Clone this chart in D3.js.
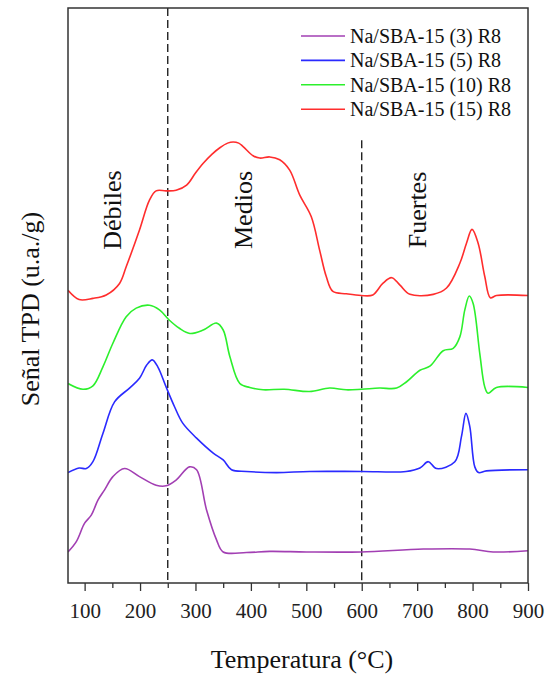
<!DOCTYPE html>
<html><head><meta charset="utf-8">
<script src="https://cdn.jsdelivr.net/npm/d3@7"></script>
<style>html,body{margin:0;padding:0;background:#fff}svg{display:block}</style>
</head><body>
<script>
// ---- data (temperature °C, signal a.u.) ----
const seriesNames = ["Na/SBA-15 (3) R8","Na/SBA-15 (5) R8","Na/SBA-15 (10) R8","Na/SBA-15 (15) R8"];
const seriesColors = ["#a23fb3","#2a2aff","#2cf02c","#ff2d2d"];
const s3 = [[70,5.4],[85,7.2],[100,10.4],[112,11.8],[124,14.4],[136,16.2],[151,18.5],[172,19.9],[199,18.5],[229,17.0],[247,16.9],[265,17.9],[289,20.2],[302,19.7],[320,12.7],[338,7.5],[350,5.4],[392,5.3],[434,5.5],[500,5.4],[599,5.4],[711,5.9],[795,5.9],[837,5.4],[900,5.6]];
const s5 = [[70,19.2],[90,20.0],[103,19.9],[115,21.1],[133,26.0],[154,31.5],[181,33.9],[199,35.6],[212,37.9],[222,38.8],[232,37.6],[247,34.1],[262,30.7],[277,27.8],[302,25.2],[332,22.6],[350,21.4],[365,19.7],[392,19.4],[446,19.2],[506,19.4],[600,19.4],[680,19.4],[705,20.0],[720,21.1],[735,19.9],[768,21.1],[780,25.5],[788,29.5],[795,27.2],[804,20.2],[811,19.2],[825,19.5],[900,19.7]];
const s10 = [[70,34.7],[97,33.7],[115,34.3],[133,37.6],[151,41.7],[175,46.3],[193,47.8],[217,48.3],[235,47.5],[253,45.7],[271,44.3],[290,43.4],[314,44.0],[338,45.2],[350,44.0],[362,39.4],[380,34.7],[398,34.0],[422,33.6],[460,33.7],[506,33.3],[542,33.9],[572,33.6],[600,33.7],[632,33.9],[663,33.9],[681,35.0],[705,37.0],[723,37.7],[747,40.4],[765,40.8],[777,42.8],[786,47.5],[794,49.9],[801,48.6],[813,39.9],[822,34.1],[828,33.0],[843,34.0],[900,34.0]];
const s15 = [[70,50.9],[90,49.3],[115,49.5],[139,50.1],[163,52.1],[175,55.0],[199,61.4],[217,66.6],[229,68.2],[247,68.2],[265,68.3],[284,69.2],[300,71.3],[314,73.0],[330,74.6],[344,75.7],[358,76.5],[368,76.7],[378,76.5],[386,75.9],[404,74.3],[416,73.9],[434,74.1],[452,73.6],[470,71.8],[488,67.5],[509,63.7],[524,57.9],[536,53.3],[548,50.7],[572,50.3],[599,50.0],[620,50.1],[638,52.1],[654,53.1],[669,51.8],[687,50.2],[729,50.2],[753,51.3],[777,55.6],[789,59.1],[799,61.5],[810,59.1],[822,53.3],[832,49.6],[843,50.0],[900,50.0]];
const allSeries = [s3, s5, s10, s15];
const xTicks = [100,200,300,400,500,600,700,800,900];
const xMinorTicks = [150,250,350,450,550,650,750,850];
const regionLabels = ["Débiles","Medios","Fuertes"];
const regionLabelX = [150,385,700];
const dividers = [250,600];
const dividerTop = [100,77];

// ---- layout ----
const W = 546, H = 678;
const m = {left:68, right:528, top:8, bottom:583};
const FONT = "'Liberation Serif','Times New Roman',serif";
const svg = d3.select("body").append("svg").attr("width",W).attr("height",H)
  .style("font-family",FONT);
const x = d3.scaleLinear().domain([70,900]).range([m.left,m.right]);
const y = d3.scaleLinear().domain([0,100]).range([m.bottom,m.top]);

svg.append("clipPath").attr("id","clip").append("rect")
  .attr("x",m.left).attr("y",m.top).attr("width",m.right-m.left).attr("height",m.bottom-m.top);

// dividers
dividers.forEach((d,i)=>{
  svg.append("line").attr("x1",x(d)).attr("x2",x(d)).attr("y1",y(dividerTop[i])).attr("y2",m.bottom)
    .attr("stroke","#111").attr("stroke-width",1.3).attr("stroke-dasharray","8,4");
});

// curves
const line = d3.line().x(d=>x(d[0])).y(d=>y(d[1])).curve(d3.curveCatmullRom.alpha(0.5));
const g = svg.append("g").attr("clip-path","url(#clip)");
allSeries.forEach((s,i)=>{
  g.append("path").datum(s).attr("d",line).attr("fill","none")
    .attr("stroke",seriesColors[i]).attr("stroke-width",1.6).attr("stroke-linejoin","round");
});

// frame
svg.append("rect").attr("x",m.left).attr("y",m.top).attr("width",m.right-m.left).attr("height",m.bottom-m.top)
  .attr("fill","none").attr("stroke","#333").attr("stroke-width",1.5);

// x axis
const ax = svg.append("g").attr("transform",`translate(0,${m.bottom})`)
  .call(d3.axisBottom(x).tickValues(xTicks).tickSize(8).tickPadding(12).tickFormat(d3.format("d")));
ax.select(".domain").remove();
ax.selectAll(".tick line").attr("stroke","#333").attr("stroke-width",1.3);
ax.selectAll(".tick text").attr("font-size",21).attr("fill","#222").attr("font-family",FONT);
const axm = svg.append("g").attr("transform",`translate(0,${m.bottom})`)
  .call(d3.axisBottom(x).tickValues(xMinorTicks).tickSize(5).tickFormat(""));
axm.select(".domain").remove();
axm.selectAll(".tick line").attr("stroke","#333").attr("stroke-width",1.3);

// axis titles
svg.append("text").attr("x",(m.left+m.right)/2+4).attr("y",668).attr("text-anchor","middle")
  .attr("font-size",26).attr("fill","#111").text("Temperatura (°C)");
svg.append("text").attr("transform","translate(39,309) rotate(-90)").attr("text-anchor","middle")
  .attr("font-size",26).attr("fill","#111").text("Señal TPD (u.a./g)");

// region labels
regionLabels.forEach((t,i)=>{
  svg.append("text").attr("transform",`translate(${x(regionLabelX[i])+9},${210}) rotate(-90)`)
    .attr("text-anchor","middle").attr("font-size",26).attr("fill","#111").text(t);
});

// legend
const lg = svg.append("g");
seriesNames.forEach((n,i)=>{
  const yy = 36 + i*24.4;
  lg.append("line").attr("x1",301).attr("x2",345).attr("y1",yy).attr("y2",yy)
    .attr("stroke",seriesColors[i]).attr("stroke-width",1.6);
  lg.append("text").attr("x",350).attr("y",yy+6.8).attr("font-size",20).attr("fill","#111").text(n);
});
</script>
</body></html>
